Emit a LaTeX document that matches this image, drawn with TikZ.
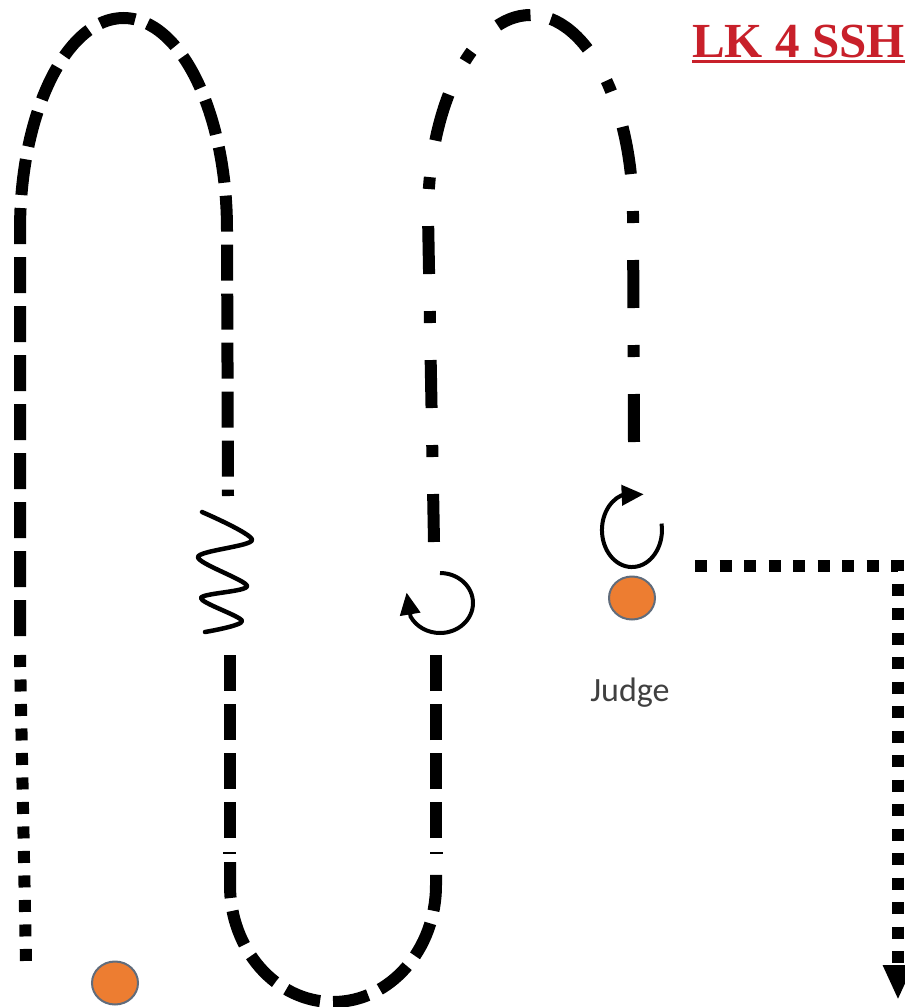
\documentclass[tikz,border=0pt]{standalone}
\usepackage{fontspec}
\setmainfont{Liberation Serif}
\newfontfamily\judgefont{Carlito}
\usetikzlibrary{arrows.meta,shapes.geometric}
\definecolor{titlered}{RGB}{200,32,42}
\definecolor{dotorange}{RGB}{237,125,49}
\definecolor{dotrim}{RGB}{96,108,124}
\definecolor{labelgray}{RGB}{64,64,64}
\begin{document}
\begin{tikzpicture}[x=1pt,y=-1pt,
  trackdash/.style={line width=12pt, line cap=butt, dash pattern=on 36pt off 13pt},
  trackdot/.style={line width=12pt, line cap=butt, dash pattern=on 12pt off 12.5pt},
  trackdashdot/.style={line width=12pt, line cap=butt, dash pattern=on 48pt off 37pt on 12pt off 37pt},
  turnline/.style={line width=4pt, -{Triangle[length=22pt,width=20pt]}},
  zig/.style={line width=4.5pt, line cap=round, line join=round},
  cone/.style={ellipse, fill=dotorange, draw=dotrim, line width=2pt, minimum width=46pt, minimum height=43pt, inner sep=0pt},
  seammark/.style={line width=2.5pt}
]
\fill[white] (0,0) rectangle (905,1007);
\useasboundingbox (0,0) rectangle (905,1007);

% left big loop (dashed)
\coordinate (aStart) at (20,636);
\coordinate (aL) at (20,230);
\coordinate (aEnd) at (228,496);
\draw[trackdash] (aStart) -- (aL) arc[start angle=180,end angle=0,x radius=103.5pt,y radius=212pt] -- (aEnd);

% left dotted start
\coordinate (pStart) at (20,655);
\coordinate (pEnd) at (26,962);
\draw[trackdot] (pStart) -- (pEnd);

% zigzag
\draw[zig] plot[smooth,tension=0.5] coordinates {(202,512) (252,540) (198,557) (247,586) (201,598) (242,621) (205,632)};

% U at bottom
\coordinate (uL) at (230,655);
\coordinate (uLb) at (230,838);
\coordinate (uLc) at (230,862);
\coordinate (uRc) at (436,862);
\coordinate (uRb) at (436,838);
\coordinate (uR) at (436,655);
\draw[trackdash] (uL) -- (uLb);
\draw[trackdash] (uLc) -- (230,885) arc[start angle=180,end angle=360,x radius=103pt,y radius=117pt] -- (uRc);
\draw[trackdash] (uRb) -- (uR);
\draw[seammark] (223,853) -- (236,853);
\draw[seammark] (430,853) -- (443,853);

% turn 1
\coordinate (l1s) at (440,573);
\draw[turnline] (l1s) arc[start angle=90,end angle=-153,x radius=33pt,y radius=30pt] -- ++(-4,-24);

% dash-dot loop (two halves meeting at the top)
\coordinate (bStart) at (434,542);
\coordinate (bEnd) at (634,442);
\draw[trackdashdot] (bStart) -- (428,215) arc[start angle=180,end angle=90,x radius=102.5pt,y radius=200pt] coordinate (bTop);
\draw[trackdashdot] (bEnd) -- (633,215) arc[start angle=0,end angle=90,x radius=102.5pt,y radius=200pt];

% turn 2
\coordinate (l2s) at (661.5,523.6);
\draw[turnline] (l2s) arc[start angle=10,end angle=-250,x radius=30pt,y radius=37pt] -- ++(22,-1);

% cones
\node[cone] (judgeDot) at (632,598) {};
\node[cone] (startDot) at (115,983) {};
\node[font=\judgefont\fontsize{34}{40}\selectfont, text=labelgray, inner sep=0pt] (judge) at (630,693) {Judge};

% right dotted exit
\coordinate (cStart) at (695,566);
\coordinate (cCorner) at (898,566);
\coordinate (cEnd) at (898,1000);
\draw[trackdot, -{Triangle[length=35pt,width=28pt]}] (cStart) -- (cCorner) -- (cEnd);

% title
\node[anchor=base west, inner sep=0pt, text=titlered, font=\fontsize{49}{59}\selectfont\bfseries] (title) at (692,57) {LK 4 SSH};
\draw[titlered, line width=3pt] ([yshift=-4.5pt]title.base west) -- ([yshift=-4.5pt]title.base east);
\end{tikzpicture}
\end{document}
